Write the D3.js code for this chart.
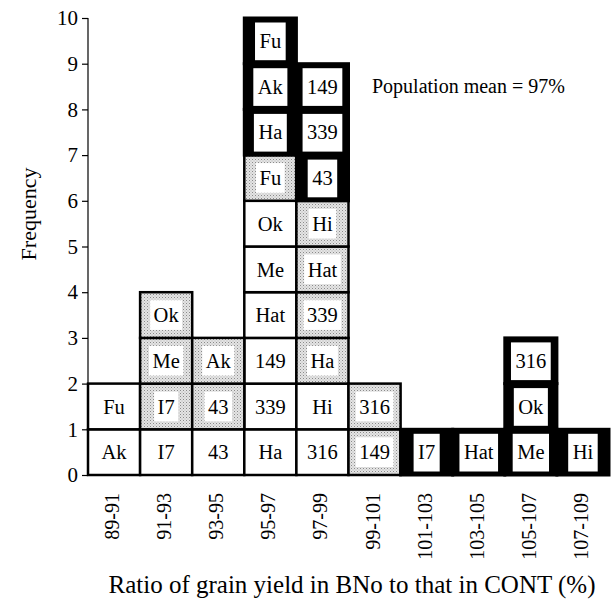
<!DOCTYPE html>
<html><head><meta charset="utf-8">
<script src="https://cdn.jsdelivr.net/npm/d3@7"></script>
<style>body{margin:0;background:#fff}svg{display:block}svg text{font-family:'Liberation Serif','Times New Roman',Times,'DejaVu Serif',serif !important;fill:#000}</style>
</head><body><svg id="c" width="615" height="601" style="font-family:'Liberation Serif','Times New Roman',Times,serif"></svg>
<script>
// ---- data ----
const bins = ["89-91","91-93","93-95","95-97","97-99","99-101","101-103","103-105","105-107","107-109"];
const yTickValues = [0,1,2,3,4,5,6,7,8,9,10];
// cells listed bottom-to-top within each bin
const cellBin = [
  "89-91","89-91",
  "91-93","91-93","91-93","91-93",
  "93-95","93-95","93-95",
  "95-97","95-97","95-97","95-97","95-97","95-97","95-97","95-97","95-97","95-97",
  "97-99","97-99","97-99","97-99","97-99","97-99","97-99","97-99","97-99",
  "99-101","99-101",
  "101-103",
  "103-105",
  "105-107","105-107","105-107",
  "107-109"
];
const cellLabel = [
  "Ak","Fu",
  "I7","I7","Me","Ok",
  "43","43","Ak",
  "Ha","339","149","Hat","Me","Ok","Fu","Ha","Ak","Fu",
  "316","Hi","Ha","339","Hat","Hi","43","339","149",
  "149","316",
  "I7",
  "Hat",
  "Me","Ok","316",
  "Hi"
];
const cellType = [
  "open","open",
  "open","dotted","dotted","dotted",
  "open","dotted","dotted",
  "open","open","open","open","open","open","dotted","solid","solid","solid",
  "open","open","dotted","dotted","dotted","dotted","solid","solid","solid",
  "dotted","dotted",
  "solid",
  "solid",
  "solid","solid","solid",
  "solid"
];
const meanLabel = "Population mean = 97%";
const xTitle = "Ratio of grain yield in BNo to that in CONT (%)";
const yTitle = "Frequency";

// ---- layout ----
const FONT = "'Liberation Serif','Times New Roman',Times,serif";
const svg = d3.select("#c");
const x = d3.scaleBand().domain(bins).range([88, 609]).padding(0);
const y = d3.scaleLinear().domain([0, 10]).range([475, 18]);

const defs = svg.append("defs");
const pat = defs.append("pattern").attr("id","stip").attr("patternUnits","userSpaceOnUse").attr("width",3).attr("height",3);
pat.append("rect").attr("width",3).attr("height",3).attr("fill","#e4e4e4");
pat.append("rect").attr("x",0).attr("y",0).attr("width",1).attr("height",1).attr("fill","#8a8a8a");
pat.append("rect").attr("x",1.5).attr("y",1.5).attr("width",1).attr("height",1).attr("fill","#b0b0b0");

const counts = {};
const cells = cellBin.map((b,i)=>{
  const lvl = counts[b] || 0; counts[b] = lvl + 1;
  return {bin:b, level:lvl, label:cellLabel[i], type:cellType[i]};
});

const fs = 20.5;
const g = svg.append("g");
const meas = svg.append("text").attr("font-size",fs).attr("font-family",FONT).attr("visibility","hidden");
function tw(s){ meas.text(s); return meas.node().getComputedTextLength(); }

const order = {open:0, dotted:1, solid:2};
const sorted = cells.slice().sort((a,b)=>order[a.type]-order[b.type]);

sorted.forEach(c=>{
  const x0 = x(c.bin), w = x.bandwidth();
  const yTop = y(c.level+1), yBot = y(c.level), h = yBot - yTop;
  const cx = x0 + w/2, cy = yTop + h/2;
  const t = tw(c.label);
  if (c.type === "open") {
    g.append("rect").attr("x",x0).attr("y",yTop).attr("width",w).attr("height",h)
      .attr("fill","#fff").attr("stroke","#000").attr("stroke-width",2.5);
  } else if (c.type === "dotted") {
    g.append("rect").attr("x",x0).attr("y",yTop).attr("width",w).attr("height",h)
      .attr("fill","url(#stip)").attr("stroke","#000").attr("stroke-width",2.5);
    const bw = t + 7, bh = h - 16;
    g.append("rect").attr("x",cx-bw/2).attr("y",cy-bh/2).attr("width",bw).attr("height",bh).attr("fill","#fff");
  } else {
    g.append("rect").attr("x",x0-1.5).attr("y",yTop-1.5).attr("width",w+3).attr("height",h+3)
      .attr("fill","#000");
  }
  c._cx = cx; c._cy = cy; c._t = t; c._h = h;
});
sorted.filter(c=>c.type==="solid").forEach(c=>{
  const bw = c._t + 9, bh = c._h - 8;
  g.append("rect").attr("x",c._cx-bw/2).attr("y",c._cy-bh/2+0.5).attr("width",bw).attr("height",bh).attr("fill","#fff");
});
sorted.forEach(c=>{
  g.append("text").attr("x",c._cx).attr("y",c._cy).attr("dy","0.35em")
    .attr("text-anchor","middle").attr("font-size",fs).attr("font-family",FONT).text(c.label);
});
meas.remove();

// y axis
const yAxis = d3.axisLeft(y).tickValues(yTickValues).tickSize(6).tickPadding(4).tickFormat(d3.format("d"));
const ya = svg.append("g").attr("transform","translate(88,0)").call(yAxis).attr("font-family",FONT);
ya.select(".domain").attr("stroke","#000").attr("stroke-width",1.2).attr("d","M0,18V475");
ya.selectAll(".tick line").attr("stroke","#000").attr("stroke-width",1.2);
ya.selectAll(".tick text").attr("font-size",21).attr("font-family",FONT).attr("fill","#000");

// x axis (rotated labels, no line)
const xAxis = d3.axisBottom(x).tickSize(0).tickPadding(0);
const xa = svg.append("g").attr("transform","translate(0,476)").call(xAxis).attr("font-family",FONT);
xa.select(".domain").remove();
xa.selectAll(".tick text").attr("font-size",20).attr("font-family",FONT).attr("fill","#000")
  .attr("text-anchor","end").attr("transform","translate(-2,17) rotate(-90)")
  .attr("x",0).attr("y",0).attr("dy","0.35em");

// annotations
svg.append("text").attr("x",372).attr("y",86).attr("dy","0.35em").attr("font-size",20).attr("font-family",FONT).text(meanLabel);
svg.append("text").attr("x",352).attr("y",593).attr("text-anchor","middle").attr("font-size",25).attr("font-family",FONT).text(xTitle);
svg.append("text").attr("transform","translate(28,214) rotate(-90)").attr("dy","0.35em")
  .attr("text-anchor","middle").attr("font-size",22).attr("font-family",FONT).text(yTitle);
</script></body></html>
